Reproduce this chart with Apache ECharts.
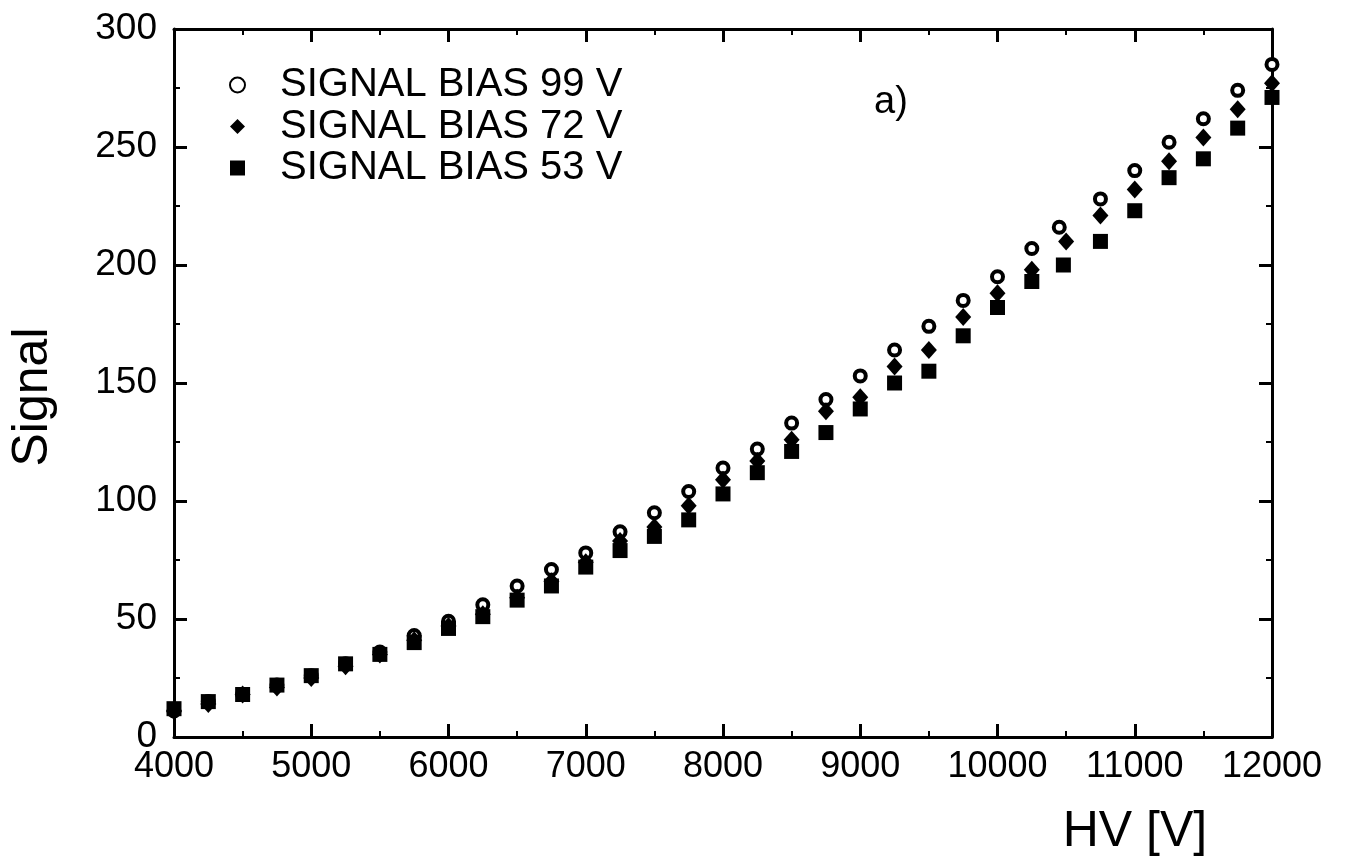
<!DOCTYPE html>
<html>
<head>
<meta charset="utf-8">
<script src="https://cdn.jsdelivr.net/npm/echarts@6/dist/echarts.min.js"></script>
<style>
html,body{margin:0;padding:0;background:#fff;}
#chart{width:1352px;height:867px;}
</style>
</head>
<body>
<div id="chart"></div>
<script>
// ---- data ----
const seriesNames = ['SIGNAL BIAS 99 V', 'SIGNAL BIAS 72 V', 'SIGNAL BIAS 53 V'];
const hv99 = [4000,4250,4500,4750,5000,5250,5500,5750,6000,6250,6500,6750,7000,7250,7500,7750,8000,8250,8500,8750,9000,9250,9500,9750,10000,10250,10450,10750,11000,11250,11500,11750,12000];
const sig99 = [11,15,18,22,26,31,36,43,49,56,64,71,78,87,95,104,114,122,133,143,153,164,174,185,195,207,216,228,240,252,262,274,285];
const hv72 = [4000,4250,4500,4750,5000,5250,5500,5750,6000,6250,6500,6750,7000,7250,7500,7750,8000,8250,8500,8750,9000,9250,9500,9750,10000,10250,10500,10750,11000,11250,11500,11750,12000];
const sig72 = [11,14,18,21,25,30,35,41,47,52,59,66,74,83,89,98,109,117,126,138,144,157,164,178,188,198,210,221,232,244,254,266,277];
const hv53 = [4000,4250,4500,4750,5000,5250,5500,5750,6000,6250,6500,6750,7000,7250,7500,7750,8000,8250,8500,8750,9000,9250,9500,9750,10000,10250,10480,10750,11000,11250,11500,11750,12000];
const sig53 = [12,15,18,22,26,31,35,40,46,51,58,64,72,79,85,92,103,112,121,129,139,150,155,170,182,193,200,210,223,237,245,258,271];
const xTitle = 'HV [V]';
const yTitle = 'Signal';
const panelLabel = 'a)';

const pairs = (xs, ys) => xs.map((x, i) => [x, ys[i]]);

const FONT = '"Liberation Sans", Arial, Helvetica, sans-serif';
const chart = echarts.init(document.getElementById('chart'), null, {renderer: 'canvas'});

const axisCommon = {
  axisLine: {show: true, onZero: false, lineStyle: {color: '#000', width: 3}},
  axisTick: {show: true, inside: true, length: 13, lineStyle: {color: '#000', width: 3}},
  minorTick: {show: true, splitNumber: 2, length: 6, lineStyle: {color: '#000', width: 2}},
  splitLine: {show: false}
};
const plain = v => String(v);

const option = {
  backgroundColor: '#fff',
  animation: false,
  textStyle: {fontFamily: FONT},
  grid: {left: 174, right: 80, top: 29, bottom: 130, containLabel: false},
  legend: {
    orient: 'vertical',
    left: 224,
    top: 60,
    itemWidth: 15,
    itemHeight: 15,
    itemGap: 1.5,
    textStyle: {fontFamily: FONT, fontSize: 40, color: '#000', lineHeight: 40, padding: [0, 0, 0, 30]},
    data: seriesNames
  },
  xAxis: [
    Object.assign({}, axisCommon, {
      type: 'value', position: 'bottom', min: 4000, max: 12000, interval: 1000,
      axisLabel: {color: '#000', fontSize: 36, fontFamily: FONT, margin: 12, formatter: plain}
    }),
    Object.assign({}, axisCommon, {
      type: 'value', position: 'top', min: 4000, max: 12000, interval: 1000,
      axisLabel: {show: false}
    })
  ],
  yAxis: [
    Object.assign({}, axisCommon, {
      type: 'value', position: 'left', min: 0, max: 300, interval: 50,
      axisLabel: {color: '#000', fontSize: 37, fontFamily: FONT, margin: 17, formatter: plain}
    }),
    Object.assign({}, axisCommon, {
      type: 'value', position: 'right', min: 0, max: 300, interval: 50,
      axisLabel: {show: false}
    })
  ],
  graphic: [
    {type: 'text', silent: true, x: 33, y: 397, rotation: Math.PI / 2,
     style: {text: yTitle, font: '50px ' + FONT, fill: '#000', align: 'center', verticalAlign: 'middle'}},
    {type: 'text', silent: true, x: 1135, y: 832,
     style: {text: xTitle, font: '50px ' + FONT, fill: '#000', align: 'center', verticalAlign: 'middle'}},
    {type: 'text', silent: true, x: 891, y: 103,
     style: {text: panelLabel, font: '38px ' + FONT, fill: '#000', align: 'center', verticalAlign: 'middle'}}
  ],
  series: [
    {
      name: seriesNames[0], type: 'scatter', xAxisIndex: 0, yAxisIndex: 0,
      symbol: 'circle', symbolSize: 11,
      itemStyle: {color: '#fff', borderColor: '#000', borderWidth: 4, opacity: 1},
      data: pairs(hv99, sig99)
    },
    {
      name: seriesNames[1], type: 'scatter', xAxisIndex: 0, yAxisIndex: 0,
      symbol: 'diamond', symbolSize: [16, 18],
      itemStyle: {color: '#000', opacity: 1},
      data: pairs(hv72, sig72)
    },
    {
      name: seriesNames[2], type: 'scatter', xAxisIndex: 0, yAxisIndex: 0,
      symbol: 'rect', symbolSize: 15,
      itemStyle: {color: '#000', opacity: 1},
      data: pairs(hv53, sig53)
    }
  ]
};
chart.setOption(option);
</script>
</body>
</html>
